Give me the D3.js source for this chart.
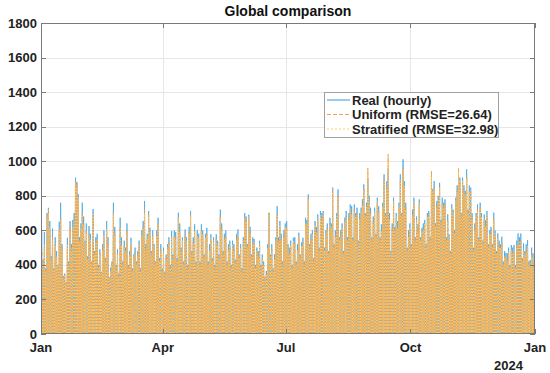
<!DOCTYPE html>
<html><head><meta charset="utf-8">
<script src="https://cdn.jsdelivr.net/npm/d3@7"></script>
<style>body{margin:0;background:#fff}svg{display:block}text{font-family:"Liberation Sans",Arial,sans-serif}</style>
</head><body><svg id="c" width="550" height="373"></svg>
<script>
// Daily peak values (one per day, 2023-01-01 .. 2023-12-31)
const real = [
/*Jan*/600,430,590,380,700,730,654,450,610,380,560,480,400,650,760,520,336,350,300,557,420,654,520,660,700,905,880,810,560,640,760,
/*Feb*/680,540,640,450,625,580,420,723,480,560,580,400,490,360,520,600,440,654,560,330,384,420,760,620,400,490,350,673,
/*Mar*/560,420,540,500,640,400,480,557,380,460,500,420,480,540,380,600,654,770,520,580,712,615,480,600,520,420,600,673,440,520,380,
/*Apr*/500,360,460,520,560,400,596,460,600,590,440,702,640,500,560,420,605,560,400,620,712,480,560,635,420,600,580,420,635,600,
/*May*/460,580,615,420,520,577,440,560,400,577,540,460,720,640,480,580,600,420,520,540,400,540,520,430,580,605,460,520,380,560,700,
/*Jun*/680,520,690,620,460,560,550,400,500,480,540,400,460,420,330,365,520,702,460,520,380,461,560,740,560,654,580,420,600,640,
/*Jul*/654,520,500,540,400,557,560,420,520,586,460,530,557,420,673,660,808,520,580,600,440,654,620,692,500,712,700,712,500,600,640,
/*Aug*/480,673,640,847,520,600,700,837,560,600,640,480,673,712,560,700,750,740,560,750,700,731,540,700,731,780,866,700,760,900,800,
/*Sep*/731,560,680,731,580,789,740,560,635,760,924,700,885,960,700,480,640,789,620,700,654,760,924,700,1011,885,760,500,600,640,
/*Oct*/520,720,789,560,680,635,779,560,615,640,660,520,700,712,560,880,840,885,640,770,800,875,660,789,760,779,560,692,577,480,750,
/*Nov*/720,600,789,860,920,905,700,905,860,828,953,720,860,847,700,500,640,700,750,560,760,700,540,692,660,712,520,600,620,520,
/*Dec*/702,600,480,582,540,519,563,420,480,470,467,500,400,515,500,515,400,540,582,560,582,440,525,480,520,544,420,428,500,467,400
];
const uniform = [
/*Jan*/480,420,500,370,690,720,600,440,560,370,520,450,390,600,670,500,330,340,300,500,410,620,500,610,660,880,870,780,540,600,700,
/*Feb*/640,520,600,440,580,540,410,690,470,520,550,390,470,350,490,560,430,600,520,330,370,410,700,580,390,470,340,620,
/*Mar*/520,410,510,470,600,390,460,520,370,440,470,410,460,510,370,560,620,720,500,550,690,580,470,570,490,410,560,640,430,490,370,
/*Apr*/480,350,440,490,530,390,560,450,570,560,430,680,600,490,530,410,570,530,390,590,690,470,530,600,410,570,550,410,600,570,
/*May*/450,550,580,410,490,550,430,530,390,550,510,450,680,610,470,550,570,410,490,510,390,510,490,420,550,570,450,490,370,530,680,
/*Jun*/660,510,670,590,450,530,520,390,470,450,510,390,430,400,330,350,490,700,450,490,370,440,530,700,540,620,550,410,570,610,
/*Jul*/620,510,470,510,390,530,530,410,490,560,450,500,530,410,640,630,790,510,550,570,430,620,590,660,490,680,670,690,490,570,610,
/*Aug*/470,640,610,840,510,570,670,800,550,570,610,470,640,680,550,670,720,700,550,720,670,700,530,670,700,750,840,690,730,960,770,
/*Sep*/700,550,650,700,570,760,710,550,600,730,900,690,850,1040,670,460,610,760,610,670,620,730,890,690,960,850,730,490,570,610,
/*Oct*/510,690,760,550,650,600,750,550,580,610,630,510,670,690,550,943,820,850,630,740,770,850,650,760,730,750,550,660,550,470,720,
/*Nov*/690,590,760,830,960,880,690,880,830,800,910,710,830,820,670,490,610,670,720,550,730,670,530,660,630,680,510,570,590,510,
/*Dec*/670,570,470,550,510,490,530,410,450,440,430,470,390,480,470,480,390,500,540,520,540,430,490,450,480,500,410,400,460,430,390
];
const stratified = [
/*Jan*/500,410,520,360,680,700,620,430,540,380,510,440,400,610,650,490,320,350,290,520,400,600,490,620,650,860,850,790,530,610,690,
/*Feb*/630,530,580,430,570,550,400,700,460,530,540,380,460,350,480,570,420,610,510,320,360,400,690,570,380,460,330,610,
/*Mar*/510,400,500,480,590,380,450,530,360,450,460,400,450,520,360,570,610,700,490,560,680,590,460,560,500,400,570,630,420,480,360,
/*Apr*/470,340,430,500,520,380,550,440,560,550,420,670,590,480,540,400,560,540,380,580,680,460,520,590,400,560,560,400,590,580,
/*May*/440,560,570,400,480,560,420,540,380,540,520,440,670,600,460,540,560,400,480,520,380,520,480,410,540,580,440,500,360,540,670,
/*Jun*/650,500,680,580,440,520,530,380,480,440,520,380,440,390,320,340,500,690,440,480,360,430,540,690,530,630,540,400,560,620,
/*Jul*/610,500,460,520,380,540,520,400,480,570,440,510,520,400,630,640,780,500,540,580,420,630,580,670,480,690,660,700,480,580,600,
/*Aug*/460,630,620,820,500,560,680,790,540,560,620,460,650,670,540,660,730,690,540,710,680,690,520,660,710,740,830,680,740,920,780,
/*Sep*/690,540,640,710,560,770,700,540,590,740,890,680,840,990,660,470,600,770,600,680,610,740,880,680,950,860,720,480,560,620,
/*Oct*/500,680,770,540,660,590,760,540,590,600,640,500,680,680,540,910,830,840,620,730,780,840,640,750,740,740,540,650,560,460,730,
/*Nov*/700,580,770,820,940,890,680,890,820,810,900,700,820,830,660,480,600,680,710,540,720,680,520,670,620,690,500,580,580,500,
/*Dec*/660,580,460,560,500,500,520,400,440,450,420,480,380,490,460,490,380,510,530,530,530,420,480,460,470,510,400,410,450,440,380
];
const seriesNames = ["Real (hourly)", "Uniform (RMSE=26.64)", "Stratified (RMSE=32.98)"];
const yTicks = [0,200,400,600,800,1000,1200,1400,1600,1800];
const xTickDates = ["2023-01-01","2023-04-01","2023-07-01","2023-10-01","2024-01-01"];
const xTickLabels = ["Jan","Apr","Jul","Oct","Jan"];
const yearLabel = "2024";
const title = "Global comparison";

const L = 41, R = 535, T = 23, B = 334;
const svg = d3.select("#c");
const start = new Date(2023,0,1), end = new Date(2024,0,1);
const x = d3.scaleTime().domain([start,end]).range([L,R]);
const y = d3.scaleLinear().domain([0,1800]).range([B,T]);
const tickDates = xTickDates.map(s => { const p = s.split("-").map(Number); return new Date(p[0],p[1]-1,p[2]); });

// grid
const g = svg.append("g");
g.selectAll(".gy").data(yTicks.slice(1,-1)).join("line")
  .attr("x1",L).attr("x2",R).attr("y1",d=>Math.round(y(d))+0.5).attr("y2",d=>Math.round(y(d))+0.5)
  .attr("stroke","#e6e6e6").attr("stroke-width",1);
g.selectAll(".gx").data(tickDates.slice(1,-1)).join("line")
  .attr("x1",d=>Math.round(x(d))+0.5).attr("x2",d=>Math.round(x(d))+0.5).attr("y1",T).attr("y2",B)
  .attr("stroke","#e6e6e6").attr("stroke-width",1);

// series: each day rises from 0 to its peak and back
function pts(arr){
  const out = [];
  arr.forEach((v,i)=>{
    out.push([d3.timeDay.offset(start,i),0]);
    out.push([d3.timeHour.offset(d3.timeDay.offset(start,i),12),v]);
  });
  out.push([end,0]);
  return out;
}
const line = d3.line().x(d=>x(d[0])).y(d=>y(d[1]));
svg.append("clipPath").attr("id","pc").append("rect").attr("x",L).attr("y",T).attr("width",R-L).attr("height",B-T);
const styles = [
  {c:"#52ace6", dash:null, w:0.85, o:1},
  {c:"#f7a04a", dash:"4,2", w:1, o:1},
  {c:"#ffcf6a", dash:"1,2", w:1, o:0.95}
];
[real,uniform,stratified].forEach((arr,k)=>{
  const s = styles[k];
  const p = svg.append("path").attr("d",line(pts(arr))).attr("fill","none")
    .attr("stroke",s.c).attr("stroke-width",s.w).attr("stroke-opacity",s.o)
    .attr("clip-path","url(#pc)");
  if (s.dash) p.attr("stroke-dasharray",s.dash);
});

// box + ticks
const ax = svg.append("g").attr("stroke","#7a7a7a").attr("stroke-width",1).attr("fill","none");
ax.append("rect").attr("x",L+0.5).attr("y",T+0.5).attr("width",R-L-1).attr("height",B-T-1);
yTicks.forEach(t=>{
  const yy = Math.round(y(t))+0.5;
  ax.append("line").attr("x1",L).attr("x2",L+5).attr("y1",yy).attr("y2",yy);
  ax.append("line").attr("x1",R-5).attr("x2",R).attr("y1",yy).attr("y2",yy);
});
tickDates.forEach(d=>{
  const xx = Math.round(x(d))+0.5;
  ax.append("line").attr("x1",xx).attr("x2",xx).attr("y1",B).attr("y2",B-5);
  ax.append("line").attr("x1",xx).attr("x2",xx).attr("y1",T).attr("y2",T+5);
});

// labels
const lab = svg.append("g").attr("fill","#222").attr("font-size","13px").attr("font-weight","bold");
yTicks.forEach(t=>{
  lab.append("text").attr("x",37).attr("y",y(t)+4.5).attr("text-anchor","end").text(t);
});
tickDates.forEach((d,i)=>{
  lab.append("text").attr("x",x(d)).attr("y",352).attr("text-anchor","middle").text(xTickLabels[i]);
});
lab.append("text").attr("x",523).attr("y",370).attr("text-anchor","end").text(yearLabel);
svg.append("text").attr("x",(L+R)/2).attr("y",16).attr("text-anchor","middle")
  .attr("font-size","14px").attr("font-weight","bold").attr("fill","#111").text(title);

// legend
const lg = svg.append("g");
lg.append("rect").attr("x",324.5).attr("y",92.5).attr("width",174).attr("height",45)
  .attr("fill","#fff").attr("stroke","#a0a0a0");
seriesNames.forEach((n,i)=>{
  const yy = 100 + i*14.5;
  const s = styles[i];
  const l = lg.append("line").attr("x1",327).attr("x2",350).attr("y1",yy).attr("y2",yy)
    .attr("stroke",s.c).attr("stroke-width",1.2);
  if (s.dash) l.attr("stroke-dasharray", i===1 ? "4,2" : "2,2");
  lg.append("text").attr("x",352).attr("y",yy+4.5).attr("font-size","13px").attr("font-weight","bold")
    .attr("fill","#222").text(n);
});
</script></body></html>
